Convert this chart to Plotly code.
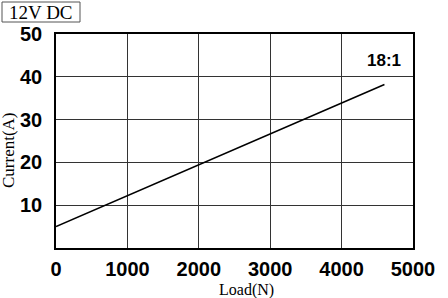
import plotly.graph_objects as go

load = [0, 4600]
current = [5.0, 38.2]
x_ticks = [0, 1000, 2000, 3000, 4000, 5000]
y_ticks = [10, 20, 30, 40, 50]

L, R, T, B = 56, 35, 34, 50
W, H = 448, 298
PW, PH = W - L - R, H - T - B


def px(x):
    return (x - L) / PW


def py(y):
    return (H - B - y) / PH


fig = go.Figure()
fig.add_trace(go.Scatter(x=load, y=current, mode="lines",
                         line=dict(color="black", width=1.6), showlegend=False))

fig.update_layout(
    width=W, height=H,
    margin=dict(l=L, r=R, t=T, b=B),
    plot_bgcolor="white", paper_bgcolor="white",
    font=dict(family="Liberation Sans, Arial", color="black"),
)
tickfont = dict(family="Liberation Sans, Arial", size=20, color="black", weight="bold")
fig.update_xaxes(range=[0, 5000], tickvals=x_ticks, ticktext=[str(v) for v in x_ticks],
                 showgrid=True, gridcolor="#333", gridwidth=1,
                 showline=True, linecolor="black", linewidth=1.5, mirror=True,
                 zeroline=False, ticks="", ticklabelstandoff=2, automargin=False,
                 tickfont=tickfont)
fig.update_yaxes(range=[0, 50], tickvals=y_ticks, ticktext=[str(v) for v in y_ticks],
                 showgrid=True, gridcolor="#333", gridwidth=1,
                 showline=True, linecolor="black", linewidth=1.5, mirror=True,
                 zeroline=False, ticks="", ticklabelstandoff=8, automargin=False,
                 tickfont=tickfont)

serif = "Liberation Serif, Times New Roman"
# axis titles
fig.add_annotation(x=px(246), y=py(290), xref="paper", yref="paper", text="Load(N)",
                   showarrow=False, xanchor="center", yanchor="middle",
                   font=dict(family=serif, size=16, color="black"))
fig.add_annotation(x=px(8), y=py(150), xref="paper", yref="paper", text="Current(A)",
                   showarrow=False, xanchor="center", yanchor="middle", textangle=-90,
                   font=dict(family=serif, size=17, color="black"))

# title box
fig.add_shape(type="rect", xref="paper", yref="paper",
              x0=px(2), x1=px(80), y0=py(22), y1=py(2),
              line=dict(color="#555", width=1), fillcolor="white")
fig.add_annotation(x=px(41), y=py(12.5), xref="paper", yref="paper", text="12V DC",
                   showarrow=False, xanchor="center", yanchor="middle",
                   font=dict(family=serif, size=19, color="black"))

fig.add_annotation(x=4860, y=43.7, xref="x", yref="y", text="18:1", showarrow=False,
                   xanchor="right", yanchor="middle",
                   font=dict(family="Liberation Sans, Arial", size=17, color="black", weight="bold"))

fig.write_html("out.html")
